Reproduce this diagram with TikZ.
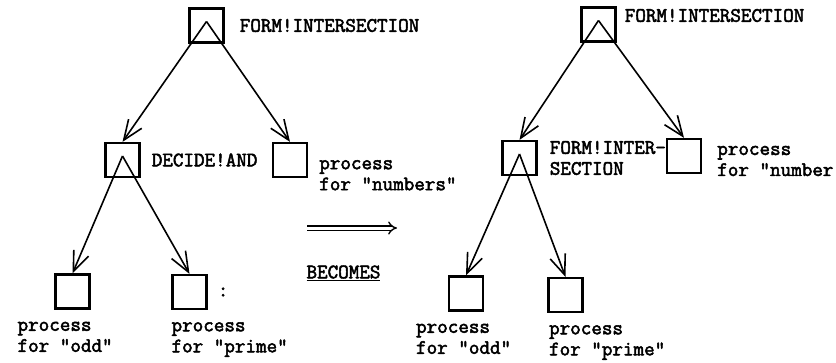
\documentclass[tikz,border=0pt]{standalone}
\usepackage{fontspec}
\setmonofont{Latin Modern Mono}[BoldFont={Latin Modern Mono}, BoldFeatures={FakeBold=2.5}]
\usetikzlibrary{arrows.meta,positioning}

\begin{document}
\begin{tikzpicture}[x=1pt, y=-1pt,
    box/.style={draw, line width=2.2pt, minimum width=34pt, minimum height=34pt, inner sep=0pt},
    arr/.style={-{Straight Barb[length=20pt,width=16pt]}, line width=1.6pt},
    lbl/.style={inner sep=0pt, align=left, font=\ttfamily\bfseries\fontsize{20.5}{21}\selectfont}
]
\useasboundingbox (0,0) rectangle (836,362);
% before
\node[box] (l0) at (206.5,25.5) {};
\node[box] (l1) at (122.5,160) {};
\node[box] (l2) at (290,160) {};
\node[box] (l3) at (72.5,291.5) {};
\node[box] (l4) at (189.5,292) {};
\coordinate (l0a) at ([yshift=4pt]l0.center);
\coordinate (l1a) at ([yshift=4pt]l1.center);
\node[lbl, right=15pt of l0] (l0t) {FORM!INTERSECTION};
\node[lbl, right=11pt of l1] (l1t) {DECIDE!AND};
\node[lbl, right=11pt of l2.east, anchor=north west] (l2t) {process\\for "numbers"};
\node[lbl, below=12pt of l3.south west, anchor=north west, xshift=-37pt] (l3t) {process\\for "odd"};
\node[lbl, below=12pt of l4.south west, anchor=north west] (l4t) {process\\for "prime"};
\node[lbl, right=10pt of l4] (l4c) {:};
\draw[arr] (l0a) -- (l1.north);
\draw[arr] (l0a) -- (l2.north);
\draw[arr] (l1a) -- (l3.north);
\draw[arr] (l1a) -- (l4.north);
% becomes
\coordinate (imp1) at (307,228);
\coordinate (imp2) at (397,228);
\draw[double, double distance=3pt, line width=1.4pt, -{Implies}] (imp1) -- (imp2);
\node[lbl] (bec) at (343.5,273) {\underline{BECOMES}};
% after
\node[box] (r0) at (598.5,24.5) {};
\node[box] (r1) at (519.5,158) {};
\node[box] (r2) at (684,156) {};
\node[box] (r3) at (466,293.5) {};
\node[box] (r4) at (565.5,295) {};
\coordinate (r0a) at ([yshift=4pt]r0.center);
\coordinate (r1a) at ([yshift=4pt]r1.center);
\node[lbl, right=8pt of r0, yshift=9pt] (r0t) {FORM!INTERSECTION};
\node[lbl, right=12pt of r1] (r1t) {FORM!INTER-\\SECTION};
\node[lbl, right=15pt of r2, yshift=-5pt] (r2t) {process\\for "number};
\node[lbl, below=12pt of r3.south west, anchor=north west, xshift=-32pt] (r3t) {process\\for "odd"};
\node[lbl, below=12pt of r4.south west, anchor=north west, xshift=1.5pt] (r4t) {process\\for "prime"};
\draw[arr] (r0a) -- (r1.north);
\draw[arr] (r0a) -- (r2.north);
\draw[arr] (r1a) -- (r3.north);
\draw[arr] (r1a) -- (r4.north);
\end{tikzpicture}
\end{document}
